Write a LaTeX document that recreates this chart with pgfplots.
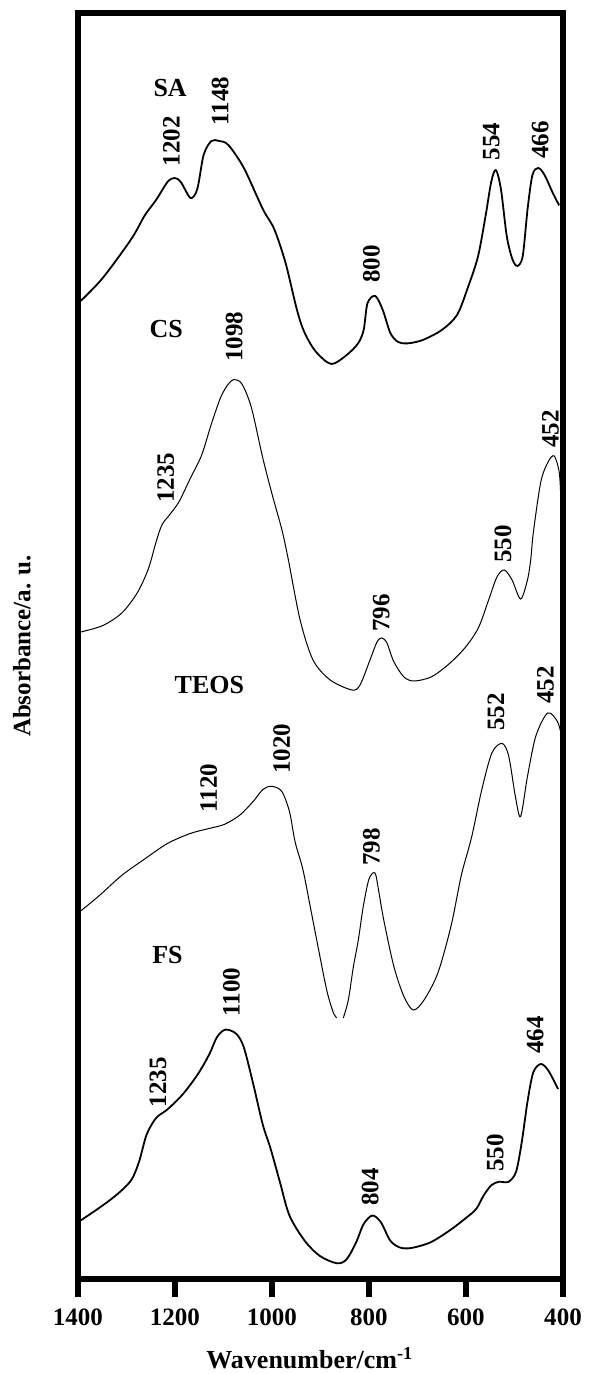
\documentclass[border=0pt]{standalone}
\usepackage{pgfplots}
\pgfplotsset{compat=1.18}
\usepackage{fontspec}
\setmainfont{Liberation Serif}
\begin{document}
\begin{tikzpicture}
\begin{axis}[
    name=ax,
    scale only axis,
    width=242.5pt, height=633pt,
    x dir=reverse,
    xmin=400, xmax=1400, ymin=0, ymax=1266,
    xtick={400,600,...,1400}, ytick=\empty,
    xtick pos=left,
    xtick align=outside,
    major tick length=8.5pt,
    xtick style={draw=black, line width=3pt},
    axis line style={line width=3.2pt},
    /pgf/number format/assume math mode=true,
    /pgf/number format/1000 sep={},
    xticklabel style={yshift=-3pt},
    font=\fontsize{12.5}{14}\selectfont\bfseries,
    xlabel={Wavenumber/cm\textsuperscript{-1}},
    ylabel={Absorbance/a. u.},
    xlabel style={at={(axis description cs:0.478,-0.0624)}, anchor=center, font=\fontsize{13}{15}\selectfont\bfseries},
    ylabel style={at={(axis description cs:-0.1155,0.5)}, anchor=center},
    unbounded coords=jump,
    every axis plot/.append style={black, smooth, no markers},
    clip=false,
    ]
% SA
\addplot[line width=0.9pt] coordinates {
(1394.5,978) (1349,1001) (1290,1040) (1262.5,1063.5) (1239,1079) (1215.5,1097)
(1201,1101) (1188,1097) (1168,1081) (1154,1090) (1141,1124) (1125,1138)
(1109,1138) (1090,1134) (1058,1111) (1019,1070) (995.5,1050) (972,1016)
(948.5,969) (932.6,946) (909,927) (877.6,915) (846,924) (822.7,935.5)
(811,949) (803,976) (787,983) (771.6,969) (756,946) (740,937) (720.5,935.6)
(689,939) (650,949) (618.5,964) (595,993) (575,1023) (559.5,1063.5)
(548,1097) (538.5,1109) (528,1090) (516,1043) (504.5,1020) (494,1013)
(483,1023) (473,1070) (463,1104) (451,1111) (438,1104) (422,1087) (408,1073.6)
};
% CS
\addplot[line width=0.5pt] coordinates {
(1394.5,647) (1349,653.4) (1309.7,666) (1278,686) (1255,710) (1239,737)
(1227,754) (1211.5,764) (1192,777) (1168,801) (1145,824) (1125,855)
(1105.5,882) (1090,895) (1078,899.5) (1062,895) (1042.6,871.6) (1019,821)
(999.4,784) (980,750) (967,721) (942,659) (915.4,619) (880,599) (835,589)
(818.5,594) (798,619) (783.5,637) (773.6,641) (763,636) (749,617.5) (728,602)
(707,598) (672,602) (637.5,614) (602.4,631) (574.6,651) (553.8,678.4)
(536.2,702) (521,709) (505,699) (487.4,680) (473.3,699) (466.6,719)
(461,747) (445.6,797.5) (430,817.7) (418,823) (408,807.6) (405,787)
};
% TEOS
\addplot[line width=0.5pt] coordinates {
(1394.5,368) (1357,383) (1310,403.5) (1262.5,420) (1215.5,435.5) (1168,445.6)
(1129,450.6) (1097.6,454.7) (1066,464) (1038.7,477.6) (1019,489.4) (1001,492.7)
(980,487.7) (964,467.5) (952.3,437) (936.5,410) (921,372) (907.8,339)
(887.2,289) (874.2,267.3) (866.6,261) (860,nan) (853,261) (842.6,279)
(832.3,312) (822,339) (812,372) (800,400) (787.6,406) (780,388) (770,360)
(749,313) (728,282.5) (708.6,269) (686.5,279) (658,306) (630.6,353.5)
(609.5,404) (588.6,441.5) (567.6,489) (546.7,526) (525.7,535.6) (512,523)
(498,482) (487.4,462.5) (473.3,502.4) (456,543) (431.5,566) (410.6,556.6)
(400,536)
};
% FS
\addplot[line width=0.9pt] coordinates {
(1394.5,58.5) (1349,73.6) (1317.5,85.4) (1290,99) (1274,117.4) (1258.6,144.3)
(1239,161) (1215.5,169.6) (1184,184.7) (1152.6,205) (1129,225) (1113.3,242)
(1096,249.4) (1074,245.3) (1058.3,232) (1038.7,195) (1019,154.4) (1003.3,131)
(983.7,97) (964,63.5) (932.6,38.3) (901.2,23) (866,15.7) (846.2,19.7)
(826.6,36.6) (811,55) (793,63.5) (775.6,56.8) (756,38.3) (736.3,31.5)
(712.7,31) (673.4,36.6) (634.1,48.4) (602.7,60) (579,70) (563.4,83.7)
(547.6,93.8) (532,97.2) (512.4,97.2) (496.7,107.3) (484.8,137.6) (473,178)
(461.3,206.6) (445.6,215) (430,208.3) (410.3,190)
};
% bottom ticks
\pgfplotsinvokeforeach{400,600,800,1000,1200,1400}{
  \draw[line width=3pt, black] (axis cs:#1,0) -- ([yshift=-9pt]axis cs:#1,0);
}
% series names
\node[font=\fontsize{13}{15}\selectfont\bfseries] at (axis cs:1210,1191) {SA};
\node[font=\fontsize{13}{15}\selectfont\bfseries] at (axis cs:1218,950) {CS};
\node[font=\fontsize{13}{15}\selectfont\bfseries] at (axis cs:1129,594) {TEOS};
\node[font=\fontsize{13}{15}\selectfont\bfseries] at (axis cs:1215.5,324) {FS};
% peak labels
\begin{scope}[every node/.style={rotate=90, font=\fontsize{12.5}{14}\selectfont\bfseries}]
\node at (axis cs:1207.5,1137.6) {1202};
\node at (axis cs:1107,1178) {1148};
\node at (axis cs:795,1015) {800};
\node at (axis cs:548,1137.6) {554};
\node at (axis cs:447,1139) {466};
\node at (axis cs:1219,801) {1235};
\node at (axis cs:1078,942) {1098};
\node at (axis cs:775,666) {796};
\node at (axis cs:524,735) {550};
\node at (axis cs:426,850) {452};
\node at (axis cs:1130.6,491) {1120};
\node at (axis cs:980,530) {1020};
\node at (axis cs:795,432) {798};
\node at (axis cs:538,567) {552};
\node at (axis cs:436,594) {452};
\node at (axis cs:1235,196.5) {1235};
\node at (axis cs:1083.6,287) {1100};
\node at (axis cs:797.5,92) {804};
\node at (axis cs:540,126) {550};
\node at (axis cs:457.4,244) {464};
\end{scope}
\end{axis}
\pgfresetboundingbox
\path ([shift={(-39pt,-47.5pt)}]ax.south west) rectangle ([shift={(17pt,6.5pt)}]ax.north east);
\end{tikzpicture}
\end{document}
